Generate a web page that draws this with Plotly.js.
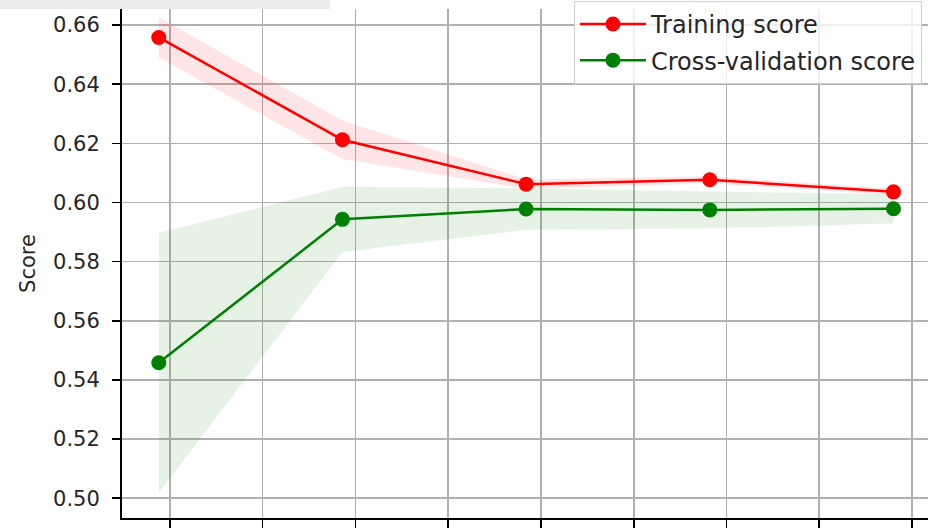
<!DOCTYPE html>
<html>
<head>
<meta charset="utf-8">
<script src="https://cdn.plot.ly/plotly-3.0.1.min.js"></script>
<style>html,body{margin:0;padding:0;background:#fff;}#chart{width:928px;height:528px;}</style>
</head>
<body>
<div id="chart"></div>
<script>
// Training set sizes (x axis tick labels are cropped out in the reference)
const trainSizes = [440, 1430, 2420, 3410, 4400];
// Mean scores
const trainMean = [0.6558, 0.6212, 0.6062, 0.6077, 0.6036];
const testMean  = [0.5458, 0.5943, 0.5978, 0.5975, 0.5979];
// Standard deviations (half-width of shaded band)
const trainStd = [0.0068, 0.0065, 0.0016, 0.0012, 0.0010];
const testStd  = [0.0440, 0.0110, 0.0070, 0.0062, 0.0050];

const trainLabel = "Training score";
const testLabel = "Cross-validation score";
const yLabel = "Score";

const lower = (m, s) => m.map((v, i) => v - s[i]);
const upper = (m, s) => m.map((v, i) => v + s[i]);

const FONT = "DejaVu Sans, sans-serif";

const traces = [
  {x: trainSizes, y: lower(trainMean, trainStd), type: "scatter", mode: "lines",
   line: {width: 0, color: "rgba(255,0,0,0)"}, showlegend: false, hoverinfo: "skip"},
  {x: trainSizes, y: upper(trainMean, trainStd), type: "scatter", mode: "lines",
   line: {width: 0, color: "rgba(255,0,0,0)"}, fill: "tonexty", fillcolor: "rgba(255,0,0,0.1)",
   showlegend: false, hoverinfo: "skip"},
  {x: trainSizes, y: lower(testMean, testStd), type: "scatter", mode: "lines",
   line: {width: 0, color: "rgba(0,128,0,0)"}, showlegend: false, hoverinfo: "skip"},
  {x: trainSizes, y: upper(testMean, testStd), type: "scatter", mode: "lines",
   line: {width: 0, color: "rgba(0,128,0,0)"}, fill: "tonexty", fillcolor: "rgba(0,128,0,0.1)",
   showlegend: false, hoverinfo: "skip"},
  {x: trainSizes, y: trainMean, type: "scatter", mode: "lines+markers", name: trainLabel,
   legendgroup: "a", line: {color: "#ff0000", width: 2.5}, marker: {color: "#ff0000", size: 15}},
  {x: trainSizes, y: testMean, type: "scatter", mode: "lines+markers", name: testLabel,
   legendgroup: "b", line: {color: "#008000", width: 2.5}, marker: {color: "#008000", size: 15}}
];

const layout = {
  width: 928, height: 528,
  margin: {l: 122, r: 0, t: 9, b: 10, pad: 0},
  paper_bgcolor: "#ffffff", plot_bgcolor: "#ffffff",
  font: {family: FONT, size: 21, color: "#262626"},
  showlegend: true,
  legend: {
    x: 0.9925, xanchor: "right", y: 1.016, yanchor: "top",
    traceorder: "grouped", tracegroupgap: 2, itemwidth: 66,
    bgcolor: "rgba(255,255,255,0.8)", bordercolor: "#d0d0d0", borderwidth: 1,
    font: {family: FONT, size: 24, color: "#262626"}
  },
  xaxis: {
    range: [242, 4586], tick0: 500, dtick: 500, showticklabels: false,
    ticks: "outside", ticklen: 10, tickwidth: 1.6, tickcolor: "#000",
    showgrid: true, gridcolor: "#b0b0b0", gridwidth: 1.6,
    showline: true, linecolor: "#000", linewidth: 2, zeroline: false, mirror: false
  },
  yaxis: {
    range: [0.49334, 0.66541], tick0: 0.5, dtick: 0.02, tickformat: ".2f",
    ticks: "outside", ticklen: 8, tickwidth: 1.6, tickcolor: "#000",
    ticklabelstandoff: 8,
    showgrid: true, gridcolor: "#b0b0b0", gridwidth: 1.6,
    showline: true, linecolor: "#000", linewidth: 2, zeroline: false,
    tickfont: {family: FONT, size: 21, color: "#262626"},
    title: {text: yLabel, font: {family: FONT, size: 21, color: "#262626"}, standoff: 12}
  },
  shapes: [
    {type: "rect", xref: "paper", yref: "paper", x0: -122/806, x1: 330/806 - 122/806,
     y0: 1, y1: 1 + 9/509, fillcolor: "#ececec", line: {width: 0}, layer: "below"}
  ]
};

Plotly.newPlot("chart", traces, layout, {displayModeBar: false, staticPlot: true});
</script>
</body>
</html>
